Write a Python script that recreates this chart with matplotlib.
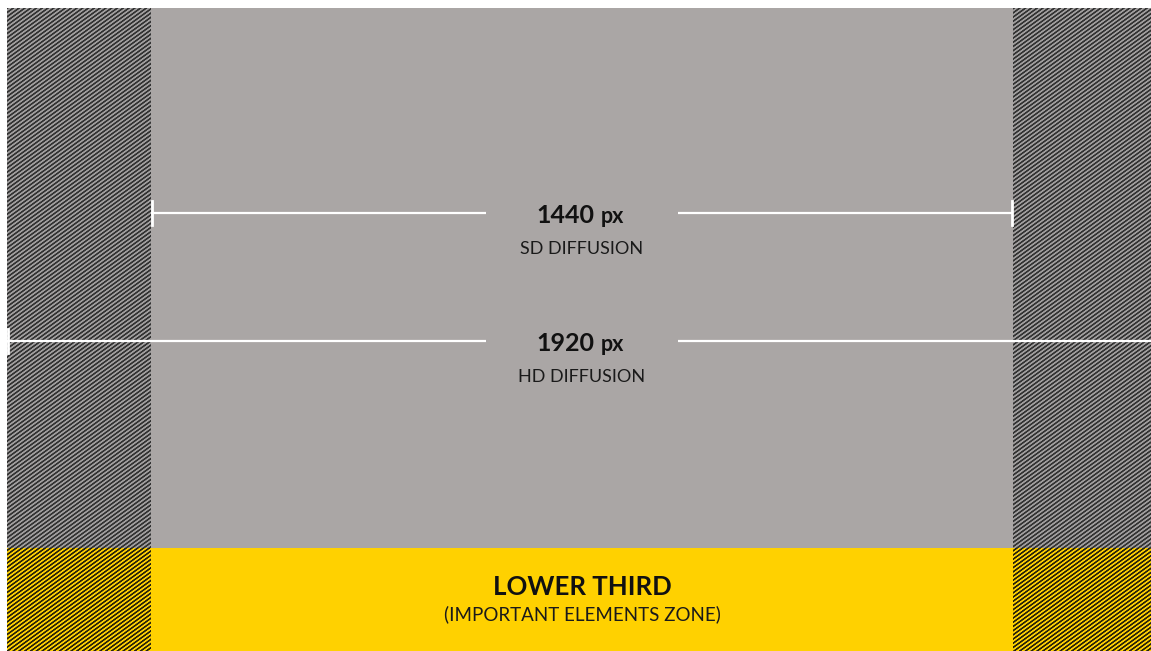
import numpy as np
import matplotlib
matplotlib.use("Agg")
import matplotlib.pyplot as plt
from matplotlib.patches import Rectangle

# ---- data (source-frame pixels) ----
FRAME_W = 1920          # HD diffusion width
FRAME_H = 1080
SD_W = 1440             # SD diffusion width
LOWER_THIRD_TOP = 902   # y where lower-third zone begins
labels_value = ["1440", "1920"]
labels_unit = ["px", "px"]
labels_sub = ["SD DIFFUSION", "HD DIFFUSION"]
line_y = [342, 556]
lower_title = "LOWER THIRD"
lower_sub = "(IMPORTANT ELEMENTS ZONE)"

# ---- styling ----
GRAY = "#aaa6a5"
YELLOW = "#ffd100"
STRIPE_GRAY = np.array([0.20, 0.20, 0.20])
STRIPE_GRAY_LIGHT = np.array([0.63, 0.62, 0.62])
STRIPE_YEL_DARK = np.array([0.16, 0.14, 0.05])
YEL_RGB = np.array(matplotlib.colors.to_rgb(YELLOW))
FONT = "Lato"

W, H = 1151, 651
S = 0.5986        # screen px per source px
X0, Y0 = 7.3, 8.0 # screen position of frame origin

fig = plt.figure(figsize=(W / 100, H / 100), dpi=100)
fig.patch.set_facecolor("white")
ax = fig.add_axes([0, 0, 1, 1])
ax.set_xlim(-X0 / S, (W - X0) / S)
ax.set_ylim((H - Y0) / S, -Y0 / S)
ax.axis("off")

cx = FRAME_W / 2
sd_l, sd_r = cx - SD_W / 2, cx + SD_W / 2

# anti-aliased striped texture for side margins (screen-pixel resolution)
yy, xx = np.mgrid[0:H, 0:W].astype(float)
th = np.deg2rad(36)
per = 3.4
u = (xx * np.sin(th) + yy * np.cos(th)) / per
t = np.clip(0.5 + 0.9 * np.cos(2 * np.pi * u), 0, 1)[..., None]  # 1 = dark
lt_screen = Y0 + LOWER_THIRD_TOP * S
upper = (yy < lt_screen)[..., None]
gray_tex = t * STRIPE_GRAY + (1 - t) * STRIPE_GRAY_LIGHT
yel_tex = t * STRIPE_YEL_DARK + (1 - t) * YEL_RGB
img = np.where(upper, gray_tex, yel_tex)
im = ax.imshow(img, extent=(-X0 / S, (W - X0) / S, (H - Y0) / S, -Y0 / S),
               interpolation="nearest", zorder=1, aspect="auto")
clip = Rectangle((0, 0), FRAME_W, FRAME_H, transform=ax.transData)
im.set_clip_path(clip)

# central solid zones
ax.add_patch(Rectangle((sd_l, 0), SD_W, LOWER_THIRD_TOP, facecolor=GRAY, edgecolor="none", zorder=2))
ax.add_patch(Rectangle((sd_l, LOWER_THIRD_TOP), SD_W, FRAME_H - LOWER_THIRD_TOP,
                       facecolor=YELLOW, edgecolor="none", zorder=2))

gap = 96 / S
cap = 12 / S
widths = [SD_W, FRAME_W]
for w, y, val, unit, sub in zip(widths, line_y, labels_value, labels_unit, labels_sub):
    l, r = cx - w / 2, cx + w / 2
    ax.plot([l, cx - gap], [y, y], color="white", lw=1.6, zorder=4, solid_capstyle="butt")
    ax.plot([cx + gap, r], [y, y], color="white", lw=1.6, zorder=4, solid_capstyle="butt")
    ax.plot([l + 1, l + 1], [y - cap, y + cap], color="white", lw=2.0, zorder=4)
    ax.plot([r - 1, r - 1], [y - cap, y + cap], color="white", lw=2.0, zorder=4)
    ax.text(cx + 12 / S, y + 10 / S, val, ha="right", va="baseline", fontsize=18,
            fontweight="bold", family=FONT, color="#111111", zorder=5)
    ax.text(cx + 19 / S, y + 10 / S, unit, ha="left", va="baseline", fontsize=15.5,
            fontweight="bold", family=FONT, color="#111111", zorder=5)
    ax.text(cx, y + 36 / S, sub, ha="center", va="center", fontsize=13,
            family=FONT, color="#1a1a1a", zorder=5)

ax.text(cx, (587 - Y0) / S, lower_title, ha="center", va="center", fontsize=18.5,
        fontweight="bold", family=FONT, color="#111111", zorder=5)
ax.text(cx, (614 - Y0) / S, lower_sub, ha="center", va="center", fontsize=13.5,
        family=FONT, color="#1a1a1a", zorder=5)

fig.savefig("out.png", dpi=100, facecolor="white")
